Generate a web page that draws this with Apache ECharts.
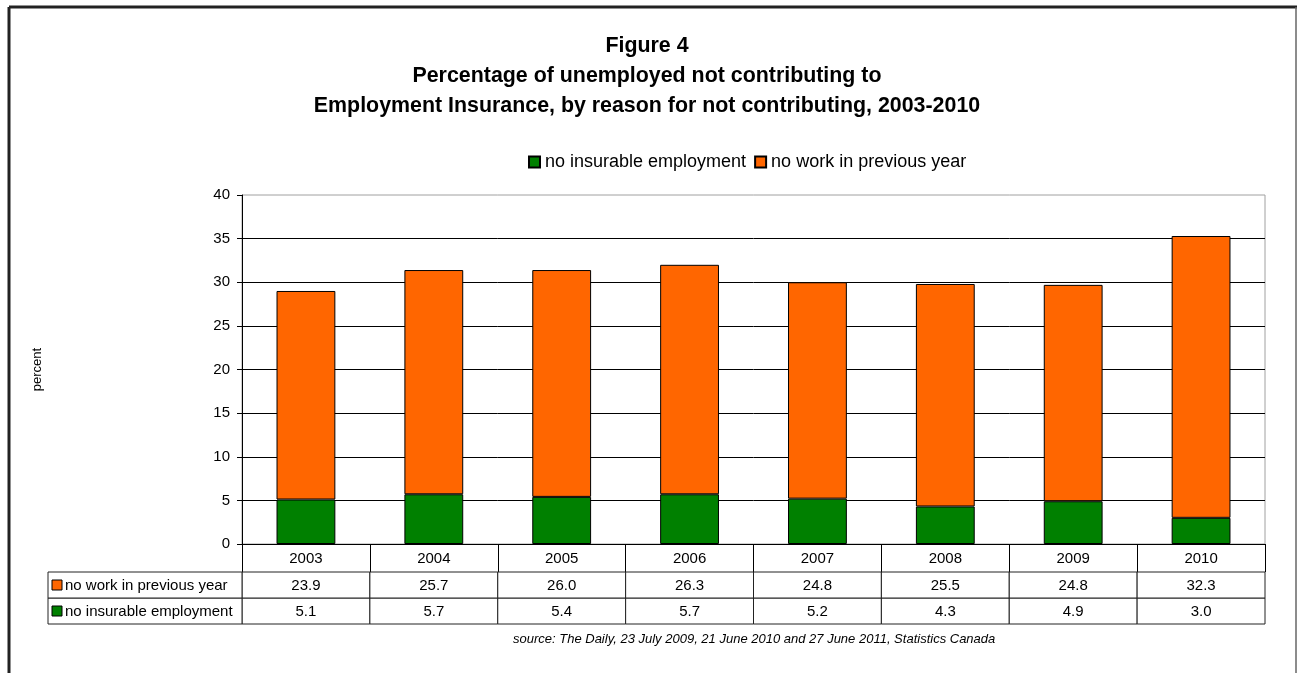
<!DOCTYPE html>
<html>
<head>
<meta charset="utf-8">
<title>Figure 4</title>
<script src="https://cdn.jsdelivr.net/npm/echarts@6/dist/echarts.min.js"></script>
<style>
  html, body { margin: 0; padding: 0; background: #fff; }
  #chart { width: 1298px; height: 673px; }
</style>
</head>
<body>
<div id="chart"></div>
<script>
// Survey years
const years = ['2003', '2004', '2005', '2006', '2007', '2008', '2009', '2010'];
// Percent of unemployed not contributing, by reason
const noInsurable = [5.1, 5.7, 5.4, 5.7, 5.2, 4.3, 4.9, 3.0];
const noWork = [23.9, 25.7, 26.0, 26.3, 24.8, 25.5, 24.8, 32.3];
const seriesNames = ['no insurable employment', 'no work in previous year'];
const seriesColors = ['#008000', '#FF6600'];
const yTicks = { min: 0, max: 40, interval: 5 };

const FONT = "'Liberation Sans', Arial, sans-serif";
const LABEL_COL_W = 194;
const TITLE_TEXT = 'Figure 4\nPercentage of unemployed not contributing to\nEmployment Insurance, by reason for not contributing, 2003-2010';

// rows of the data table under the plot, bottom row first
const tableRows = [noInsurable, noWork];
const tableData = [];
tableRows.forEach((vals, r) => vals.forEach((v, i) => tableData.push([i, r, v])));

function renderCell(params, api) {
  const xi = api.value(0);
  const r = api.value(1);
  const v = api.value(2);
  const c = api.coord([xi, r]);
  const s = api.size([1, 1]);
  const x = c[0] - s[0] / 2;
  const y = c[1] - s[1] / 2;
  const children = [
    { type: 'rect', shape: { x: x, y: y, width: s[0], height: s[1] },
      style: { fill: '#fff', stroke: '#222', lineWidth: 1 } },
    { type: 'text', style: { x: c[0], y: c[1] + 1, text: v.toFixed(1), align: 'center',
      verticalAlign: 'middle', fill: '#000', font: '15px ' + FONT } }
  ];
  if (xi === 0) {
    const lx = x - LABEL_COL_W;
    children.push(
      { type: 'rect', shape: { x: lx, y: y, width: LABEL_COL_W, height: s[1] },
        style: { fill: '#fff', stroke: '#222', lineWidth: 1 } },
      { type: 'rect', shape: { x: lx + 4, y: c[1] - 5, width: 10, height: 10 },
        style: { fill: seriesColors[r], stroke: '#000', lineWidth: 1 } },
      { type: 'text', style: { x: lx + 17, y: c[1] + 1, text: seriesNames[r], align: 'left',
        verticalAlign: 'middle', fill: '#000', font: '15px ' + FONT } }
    );
  }
  return { type: 'group', children: children };
}

const chart = echarts.init(document.getElementById('chart'), null, { renderer: 'canvas' });

chart.setOption({
  backgroundColor: '#fff',
  animation: false,
  legend: {
    data: seriesNames,
    left: 523,
    top: 148,
    itemWidth: 11,
    itemHeight: 11,
    itemGap: 8,
    icon: 'rect',
    textStyle: { fontFamily: FONT, fontSize: 18, color: '#000' }
  },
  grid: [
    { left: 242, right: 33, top: 195, bottom: 129, show: true, borderColor: '#a0a0a0', borderWidth: 1 },
    { left: 242, right: 33, top: 572, height: 52 }
  ],
  xAxis: [
    {
      type: 'category', gridIndex: 0, data: years,
      axisLine: { lineStyle: { color: '#000', width: 1 } },
      axisTick: { show: true, length: 28, lineStyle: { color: '#000' } },
      axisLabel: { color: '#000', fontSize: 15, fontFamily: FONT, margin: 7 }
    },
    {
      type: 'category', gridIndex: 1, data: years,
      axisLine: { show: false }, axisTick: { show: false }, axisLabel: { show: false }
    }
  ],
  yAxis: [
    {
      type: 'value', gridIndex: 0, min: yTicks.min, max: yTicks.max, interval: yTicks.interval,
      name: 'percent', nameLocation: 'middle', nameGap: 198, nameRotate: 90,
      nameTextStyle: { fontFamily: FONT, fontSize: 13, color: '#000' },
      axisLine: { show: true, lineStyle: { color: '#000' } },
      axisTick: { show: true, length: 5, lineStyle: { color: '#000' } },
      axisLabel: { color: '#000', fontSize: 15, fontFamily: FONT, margin: 12 },
      splitLine: { show: true, showMaxLine: false, lineStyle: { color: '#000', width: 1 } }
    },
    {
      type: 'category', gridIndex: 1, data: seriesNames,
      axisLine: { show: false }, axisTick: { show: false }, axisLabel: { show: false }
    }
  ],
  series: [
    {
      name: seriesNames[0], type: 'bar', stack: 'total', data: noInsurable,
      xAxisIndex: 0, yAxisIndex: 0, barWidth: '46%',
      itemStyle: { color: seriesColors[0], borderColor: '#000', borderWidth: 1 }
    },
    {
      name: seriesNames[1], type: 'bar', stack: 'total', data: noWork,
      xAxisIndex: 0, yAxisIndex: 0, barWidth: '46%',
      itemStyle: { color: seriesColors[1], borderColor: '#000', borderWidth: 1 }
    },
    {
      name: 'table', type: 'custom', xAxisIndex: 1, yAxisIndex: 1,
      data: tableData, renderItem: renderCell, clip: false, silent: true
    }
  ],
  graphic: [
    // page frame
    { type: 'line', shape: { x1: 9, y1: 7, x2: 1297, y2: 7 }, style: { stroke: '#222', lineWidth: 3 } },
    { type: 'line', shape: { x1: 9, y1: 7, x2: 9, y2: 673 }, style: { stroke: '#222', lineWidth: 3 } },
    { type: 'line', shape: { x1: 1296, y1: 7, x2: 1296, y2: 673 }, style: { stroke: '#666', lineWidth: 1.5 } },
    // condensed bold heading
    {
      type: 'text', x: 647, y: 31, scaleX: 0.95,
      style: { text: TITLE_TEXT, align: 'center', verticalAlign: 'top', lineHeight: 30,
        fill: '#000', font: 'bold 22.5px ' + FONT }
    },
    {
      type: 'text', left: 513, top: 633,
      style: { text: 'source: The Daily, 23 July 2009, 21 June 2010 and 27 June 2011, Statistics Canada',
        fill: '#000', font: 'italic 13px ' + FONT }
    }
  ]
});
</script>
</body>
</html>
